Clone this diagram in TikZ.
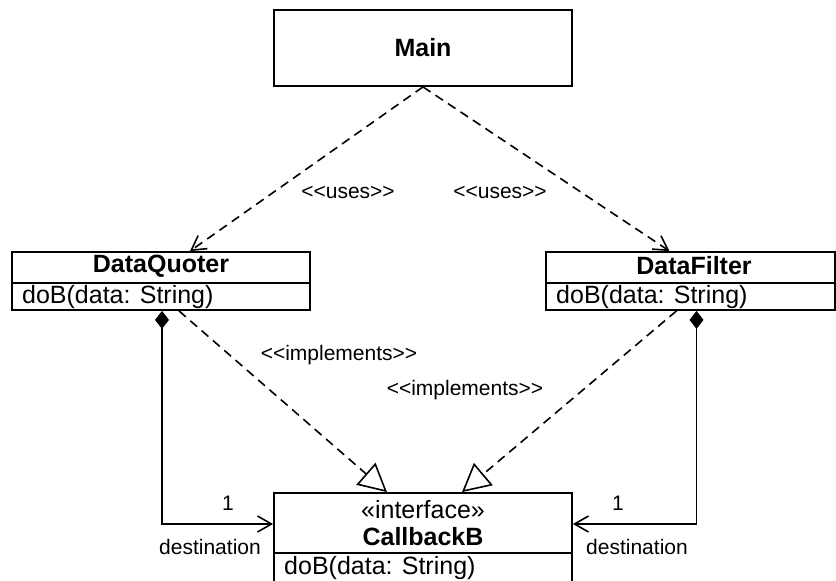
\documentclass[tikz,border=0pt]{standalone}
\usepackage{fontspec}
\setmainfont{Liberation Sans}
\usetikzlibrary{arrows.meta}
\tikzset{>={Straight Barb[length=14pt, width=16pt]}}
\tikzset{
	classbox/.style={draw, line width=1.8pt, inner sep=0pt},
	cname/.style={font=\fontsize{25}{29}\selectfont\bfseries, inner sep=0pt},
	cmeth/.style={font=\fontsize{25}{29}\selectfont, anchor=west, inner sep=0pt},
	lbl/.style={font=\fontsize{21}{25}\selectfont, inner sep=0pt},
	dep/.style={line width=1.6pt, dash pattern=on 9pt off 6pt, ->},
	real/.style={line width=1.6pt, dash pattern=on 9pt off 6pt, -{Triangle[open, length=28pt, width=29pt]}},
	comp/.style={line width=1.6pt, {Diamond[length=18pt, width=14pt]}->}
}

\begin{document}
\begin{tikzpicture}[x=1pt, y=-1pt]
	\useasboundingbox (0, 0) rectangle (836, 581);
	\node [classbox, minimum width=298pt, minimum height=76pt] (main) at (423, 48) {};
	\node [cname] (mainname) at (423, 48) {Main};
	\node [classbox, minimum width=298pt, minimum height=58pt] (quoter) at (161, 281) {};
	\node [cname] (quotername) at (161, 266) {DataQuoter};
	\node [cmeth] (quotermeth) at (22, 297) {doB(data: String)};
	\draw (quoter.west |- 0, 283)--(quoter.east |- 0, 283) [line width=1.8pt];
	\node [classbox, minimum width=289pt, minimum height=58pt] (filter) at (690.5, 281) {};
	\node [cname] (filtername) at (694, 266) {DataFilter};
	\node [cmeth] (filtermeth) at (556, 297) {doB(data: String)};
	\draw (filter.west |- 0, 283)--(filter.east |- 0, 283) [line width=1.8pt];
	\node [classbox, minimum width=298pt, minimum height=92pt] (callback) at (423, 539) {};
	\node [lbl, font=\fontsize{25}{29}\selectfont] (stereo) at (423, 510) {«interface»};
	\node [cname] (callbackname) at (423, 537) {CallbackB};
	\node [cmeth] (callbackmeth) at (284, 568) {doB(data: String)};
	\draw (callback.west |- 0, 553)--(callback.east |- 0, 553) [line width=1.8pt];
	\draw [dep] (main.south)--([xshift=29pt]quoter.north);
	\draw [dep] (main.south)--([xshift=-21pt]filter.north);
	\node [lbl] (uses1) at (348, 192) {<\kern0pt<uses>\kern0pt>};
	\node [lbl] (uses2) at (500, 192) {<\kern0pt<uses>\kern0pt>};
	\draw [real] ([xshift=18pt]quoter.south)--([xshift=-36pt]callback.north);
	\draw [real] ([xshift=-14pt]filter.south)--([xshift=39pt]callback.north);
	\node [lbl] (impl1) at (339, 355) {<\kern0pt<implements>\kern0pt>};
	\node [lbl] (impl2) at (465, 390) {<\kern0pt<implements>\kern0pt>};
	\draw [comp] ([xshift=1pt]quoter.south) |- ([yshift=15pt]callback.west);
	\draw [comp] ([xshift=6pt]filter.south) |- ([yshift=15pt]callback.east);
	\node [lbl] (one1) at (228, 503) {1};
	\node [lbl] (dest1) at (210, 547) {destination};
	\node [lbl] (one2) at (618, 503) {1};
	\node [lbl] (dest2) at (637, 547) {destination};
\end{tikzpicture}
\end{document}
